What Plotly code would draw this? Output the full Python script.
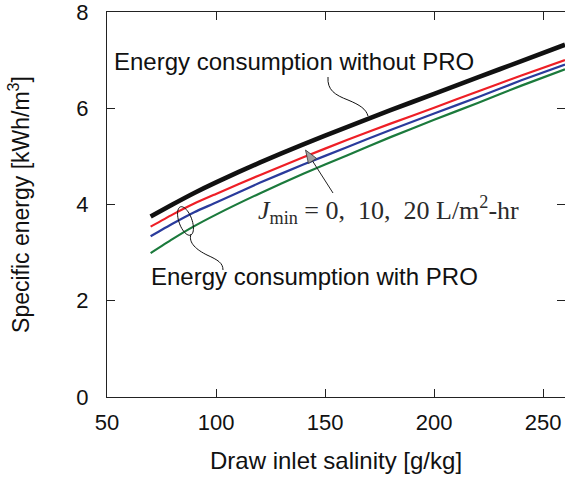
import numpy as np
import plotly.graph_objects as go

# Draw inlet salinity [g/kg]
salinity = [70, 80, 90, 100, 120, 140, 160, 180, 200, 220, 240, 260]

# Specific energy [kWh/m3]
energy_without_pro = [3.75, 4.00, 4.24, 4.46, 4.87, 5.25, 5.61, 5.96, 6.30, 6.64, 6.98, 7.32]
energy_pro_j0 = [3.54, 3.79, 4.02, 4.22, 4.61, 4.98, 5.34, 5.68, 6.01, 6.35, 6.68, 7.00]
energy_pro_j10 = [3.34, 3.60, 3.84, 4.04, 4.45, 4.83, 5.19, 5.55, 5.89, 6.23, 6.58, 6.91]
energy_pro_j20 = [2.99, 3.28, 3.55, 3.79, 4.23, 4.64, 5.02, 5.40, 5.76, 6.11, 6.47, 6.81]

x_tick_vals = [50, 100, 150, 200, 250]
y_tick_vals = [0, 2, 4, 6, 8]

# Figure geometry
W, H = 565, 480
M_L, M_R, M_T, M_B = 107, 0, 12, 83
PW = W - M_L - M_R
PH = H - M_T - M_B
X_RANGE = (50, 260)
Y_RANGE = (0, 8)


def to_x(px):
    return X_RANGE[0] + (px - M_L) / PW * (X_RANGE[1] - X_RANGE[0])


def to_y(py):
    return Y_RANGE[1] - (py - M_T) / PH * (Y_RANGE[1] - Y_RANGE[0])


def pt(px, py):
    return f"{to_x(px):.4f},{to_y(py):.4f}"


FONT = "Liberation Sans, Arial, sans-serif"

fig = go.Figure()

series = [
    (energy_pro_j20, "#1b7a3c", 2.2, "J_min = 20"),
    (energy_pro_j10, "#2a3b9c", 2.2, "J_min = 10"),
    (energy_pro_j0, "#ee1f26", 2.2, "J_min = 0"),
    (energy_without_pro, "#111111", 4.6, "without PRO"),
]
for ys, color, width, name in series:
    fig.add_trace(go.Scatter(
        x=salinity, y=ys, mode="lines", name=name,
        line=dict(color=color, width=width, shape="spline", smoothing=0.6),
        showlegend=False, hoverinfo="skip",
    ))

shapes = []

# Leader from the "without PRO" label to the thick curve
shapes.append(dict(
    type="path", xref="x", yref="y",
    path=f"M {pt(328, 77)} C {pt(327, 90)} {pt(335, 95)} {pt(348, 100)} "
         f"C {pt(360, 105)} {pt(366, 109)} {pt(368, 116)}",
    line=dict(color="#111111", width=1),
))

# Ellipse grouping the PRO curves
cx, cy, a, b = 185.5, 221.0, 15.0, 6.5
ux, uy = 0.337, 0.942
vx, vy = uy, -ux
ts = np.linspace(0, 2 * np.pi, 49)
ell = [(cx + a * np.cos(t) * ux + b * np.sin(t) * vx,
        cy + a * np.cos(t) * uy + b * np.sin(t) * vy) for t in ts]
ell_path = "M " + " L ".join(pt(px, py) for px, py in ell) + " Z"
shapes.append(dict(type="path", xref="x", yref="y", path=ell_path,
                   line=dict(color="#111111", width=1)))

# Leader from the ellipse to the "with PRO" label
shapes.append(dict(
    type="path", xref="x", yref="y",
    path=f"M {pt(191, 234)} C {pt(188, 243)} {pt(197, 250)} {pt(207, 255)} "
         f"C {pt(218, 260)} {pt(223, 263)} {pt(223, 270)}",
    line=dict(color="#111111", width=1),
))

# Arrow from the J_min label towards the curves
tip = np.array([305.5, 150.0])
tail = np.array([333.0, 193.0])
u = (tip - tail) / np.linalg.norm(tip - tail)
perp = np.array([-u[1], u[0]])
base = tip - 13 * u
c1 = base + 4.8 * perp
c2 = base - 4.8 * perp
shapes.append(dict(type="path", xref="x", yref="y",
                   path=f"M {pt(*tail)} L {pt(*base)}",
                   line=dict(color="#222222", width=1)))
shapes.append(dict(type="path", xref="x", yref="y",
                   path=f"M {pt(*tip)} L {pt(*c1)} L {pt(*c2)} Z",
                   fillcolor="#a0a0a0", line=dict(color="#333333", width=0.8)))

annotations = [
    dict(x=to_x(112), y=to_y(61.5), xref="x", yref="y", xanchor="left", yanchor="middle",
         text="Energy consumption without PRO", showarrow=False,
         font=dict(family=FONT, size=24, color="#111111")),
    dict(x=to_x(149), y=to_y(276.5), xref="x", yref="y", xanchor="left", yanchor="middle",
         text="Energy consumption with PRO", showarrow=False,
         font=dict(family=FONT, size=24, color="#111111")),
    dict(x=to_x(256), y=to_y(210), xref="x", yref="y", xanchor="left", yanchor="middle",
         text="<i>J</i><sub>min</sub>\u00a0=\u00a00,\u00a0\u00a010,\u00a0\u00a020\u00a0L/m<sup>2</sup>-hr",
         showarrow=False,
         font=dict(family="Liberation Serif, Times New Roman, serif", size=26, color="#2a2a2a")),
]

axis_common = dict(
    showline=True, linecolor="#222222", linewidth=1.2, mirror="ticks",
    ticks="inside", ticklen=8, tickwidth=1, tickcolor="#222222",
    showgrid=False, zeroline=False, ticklabeloverflow="allow",
    tickfont=dict(family=FONT, size=22, color="#111111"),
)

fig.update_layout(
    width=W, height=H,
    margin=dict(l=M_L, r=M_R, t=M_T, b=M_B, autoexpand=False),
    paper_bgcolor="white", plot_bgcolor="white",
    xaxis=dict(range=list(X_RANGE), tickvals=x_tick_vals, ticklabelstandoff=5,
               title=dict(text="Draw inlet salinity [g/kg]", standoff=18,
                          font=dict(family=FONT, size=24, color="#111111")),
               **axis_common),
    yaxis=dict(range=list(Y_RANGE), tickvals=y_tick_vals, ticklabelstandoff=13,
               title=dict(text="Specific energy [kWh/m<sup>3</sup>]", standoff=40,
                          font=dict(family=FONT, size=23, color="#111111")),
               **axis_common),
    shapes=shapes,
    annotations=annotations,
)

fig.write_html("out.html")
